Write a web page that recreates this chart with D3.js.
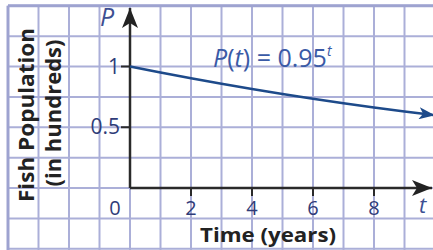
<!DOCTYPE html>
<html>
<head>
<meta charset="utf-8">
<script src="https://cdn.jsdelivr.net/npm/d3@7"></script>
<style>
  body { margin: 0; background: #fff; }
  svg { display: block; }
</style>
</head>
<body>
<div id="chart"></div>
<script>
const WIDTH = 433
const HEIGHT = 250

// grid extent (one cell = 1 year across, 0.25 hundred fish up)
const gridT = d3.range(-4, 11, 1)
const gridP = d3.range(-0.5, 1.51, 0.25)

const xTicks = [2, 4, 6, 8]
const yTicks = [0.5, 1]
const yTickLabels = ["0.5", "1"]

const base = 0.95
const curveT = [0, 1, 2, 3, 4, 5, 6, 7, 8, 9, 10]

const x = d3.scaleLinear().domain([0, 10]).range([130, 435])
const y = d3.scaleLinear().domain([0, 1]).range([188, 66.5])

const svg = d3.select("#chart")
    .append("svg")
    .attr("width", WIDTH)
    .attr("height", HEIGHT)

const defs = svg.append("defs")
defs.append("marker")
    .attr("id", "axisArrow")
    .attr("viewBox", "0 0 20 16")
    .attr("refX", 20).attr("refY", 8)
    .attr("markerWidth", 20).attr("markerHeight", 16)
    .attr("markerUnits", "userSpaceOnUse")
    .attr("orient", "auto")
    .append("path")
    .attr("d", "M0,0 L20,8 L0,16 L5,8 Z")
    .attr("fill", "#222")
defs.append("marker")
    .attr("id", "curveArrow")
    .attr("viewBox", "0 0 16 12")
    .attr("refX", 16).attr("refY", 6)
    .attr("markerWidth", 16).attr("markerHeight", 12)
    .attr("markerUnits", "userSpaceOnUse")
    .attr("orient", "auto")
    .append("path")
    .attr("d", "M0,0 L16,6 L0,12 L4,6 Z")
    .attr("fill", "#1d4a8a")

// grid
const grid = svg.append("g")
    .attr("stroke", "#abafd8")
    .attr("stroke-width", 2)
grid.selectAll("line.v")
    .data(gridT)
    .join("line")
    .attr("class", "v")
    .attr("x1", d => x(d)).attr("x2", d => x(d))
    .attr("y1", y(1.5)).attr("y2", HEIGHT)
grid.selectAll("line.h")
    .data(gridP)
    .join("line")
    .attr("class", "h")
    .attr("y1", d => y(d)).attr("y2", d => y(d))
    .attr("x1", x(-4)).attr("x2", WIDTH)

// heavier outer edges
svg.append("line")
    .attr("x1", x(-4)).attr("x2", WIDTH)
    .attr("y1", y(1.5)).attr("y2", y(1.5))
    .attr("stroke", "#9ea3d0").attr("stroke-width", 3)
svg.append("line")
    .attr("x1", x(-4)).attr("x2", x(-4))
    .attr("y1", y(1.5)).attr("y2", HEIGHT)
    .attr("stroke", "#9ea3d0").attr("stroke-width", 3)

// axes
const axisColor = "#2a2a2a"
svg.append("line")
    .attr("x1", x(0)).attr("x2", 432)
    .attr("y1", y(0)).attr("y2", y(0))
    .attr("stroke", axisColor).attr("stroke-width", 2.5)
    .attr("marker-end", "url(#axisArrow)")
svg.append("line")
    .attr("x1", x(0)).attr("x2", x(0))
    .attr("y1", y(0)).attr("y2", 8)
    .attr("stroke", axisColor).attr("stroke-width", 2.5)
    .attr("marker-end", "url(#axisArrow)")

svg.append("g")
    .selectAll("line")
    .data(xTicks)
    .join("line")
    .attr("x1", d => x(d)).attr("x2", d => x(d))
    .attr("y1", y(0)).attr("y2", y(0) + 8)
    .attr("stroke", axisColor).attr("stroke-width", 2)
svg.append("g")
    .selectAll("line")
    .data(yTicks)
    .join("line")
    .attr("x1", x(0) - 9).attr("x2", x(0))
    .attr("y1", d => y(d)).attr("y2", d => y(d))
    .attr("stroke", axisColor).attr("stroke-width", 2)

const tickColor = "#2f3c78"
const font = "'Open Sans', 'DejaVu Sans', sans-serif"

svg.append("g")
    .attr("font-family", font)
    .attr("font-size", 20)
    .attr("fill", tickColor)
    .attr("text-anchor", "middle")
    .selectAll("text")
    .data(xTicks)
    .join("text")
    .attr("x", d => x(d))
    .attr("y", 215)
    .text(d => d)

svg.append("text")
    .attr("font-family", font).attr("font-size", 20)
    .attr("fill", tickColor).attr("text-anchor", "middle")
    .attr("x", 115).attr("y", 215)
    .text("0")

svg.append("g")
    .attr("font-family", font)
    .attr("font-size", 21)
    .attr("fill", tickColor)
    .attr("text-anchor", "end")
    .selectAll("text")
    .data(yTicks)
    .join("text")
    .attr("x", 120)
    .attr("y", d => y(d) + 7)
    .text((d, i) => yTickLabels[i])

// axis letters
svg.append("text")
    .attr("font-family", font).attr("font-size", 25)
    .attr("font-style", "italic")
    .attr("fill", "#3d4f92")
    .attr("x", 100).attr("y", 26)
    .text("P")
svg.append("text")
    .attr("font-family", font).attr("font-size", 22)
    .attr("font-style", "italic")
    .attr("fill", "#3d4f92")
    .attr("x", 419).attr("y", 213)
    .text("t")

// curve
const line = d3.line()
    .x(d => x(d))
    .y(d => y(Math.pow(base, d)))
    .curve(d3.curveMonotoneX)
svg.append("path")
    .datum(curveT)
    .attr("d", line)
    .attr("fill", "none")
    .attr("stroke", "#1d4a8a")
    .attr("stroke-width", 2.5)
    .attr("marker-end", "url(#curveArrow)")

// equation label
const eq = svg.append("text")
    .attr("font-family", font)
    .attr("font-size", 25)
    .attr("fill", "#3a5aa6")
    .attr("x", 213).attr("y", 67)
eq.append("tspan").attr("font-style", "italic").text("P")
eq.append("tspan").text("(")
eq.append("tspan").attr("font-style", "italic").text("t")
eq.append("tspan").text(") = 0.95")
eq.append("tspan").attr("font-style", "italic").attr("font-size", 14)
    .attr("dy", -11).text("t")

// axis titles
svg.append("text")
    .attr("font-family", font).attr("font-size", 19)
    .attr("font-weight", "bold").attr("fill", "#222")
    .attr("text-anchor", "middle")
    .attr("x", 268).attr("y", 242)
    .attr("textLength", 136).attr("lengthAdjust", "spacingAndGlyphs")
    .text("Time (years)")

svg.append("text")
    .attr("font-family", font).attr("font-size", 21)
    .attr("font-weight", "bold").attr("fill", "#222")
    .attr("text-anchor", "middle")
    .attr("transform", "translate(34,115) rotate(-90)")
    .attr("textLength", 174).attr("lengthAdjust", "spacingAndGlyphs")
    .text("Fish Population")

svg.append("text")
    .attr("font-family", font).attr("font-size", 21)
    .attr("font-weight", "bold").attr("fill", "#222")
    .attr("text-anchor", "middle")
    .attr("transform", "translate(61,113) rotate(-90)")
    .attr("textLength", 147).attr("lengthAdjust", "spacingAndGlyphs")
    .text("(in hundreds)")
</script>
</body>
</html>
